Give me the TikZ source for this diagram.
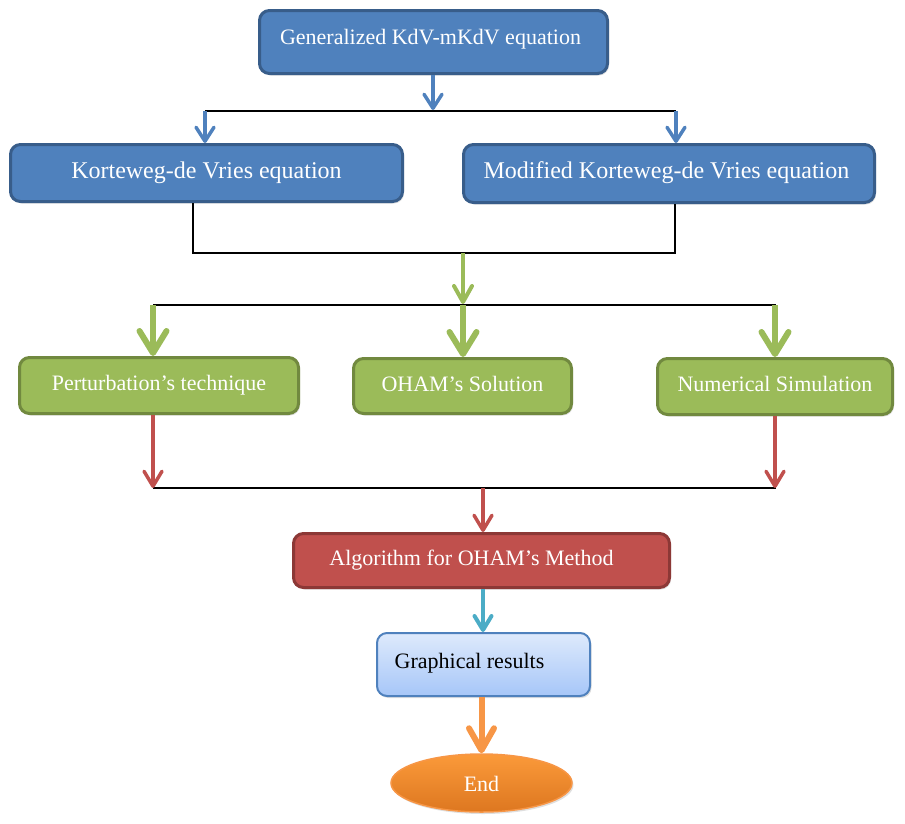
\documentclass[tikz,border=0pt]{standalone}
\usepackage{fontspec}
\setmainfont{Liberation Serif}
\usetikzlibrary{arrows.meta,shapes.geometric,shadows}
\definecolor{bfill}{HTML}{4F81BD}
\definecolor{bdraw}{HTML}{385D8A}
\definecolor{gfill}{HTML}{9BBB59}
\definecolor{gdraw}{HTML}{71893F}
\definecolor{rfill}{HTML}{C0504D}
\definecolor{rdraw}{HTML}{8C3836}
\definecolor{lbtop}{HTML}{DEEAFC}
\definecolor{lbbot}{HTML}{A6C6F8}
\definecolor{teal}{HTML}{4BACC6}
\definecolor{oline}{HTML}{F79646}
\definecolor{otop}{HTML}{FB9A3A}
\definecolor{obot}{HTML}{DD7720}
\tikzset{
  box/.style={rounded corners=10pt, line width=3pt, text height=15pt, text depth=5pt,
    inner sep=0pt, font=\fontsize{22}{26}\selectfont,
    drop shadow={shadow xshift=1.5pt, shadow yshift=-2pt, opacity=0.25}},
  bluebox/.style={box, fill=bfill, draw=bdraw, text=white},
  bigtext/.style={font=\fontsize{24}{28}\selectfont, text height=16pt, text depth=6pt},
  greenbox/.style={box, fill=gfill, draw=gdraw, text=white},
  redbox/.style={box, fill=rfill, draw=rdraw, text=white},
  lightbox/.style={box, line width=2pt, draw=bfill, top color=lbtop, bottom color=lbbot, text=black},
  endbox/.style={ellipse, inner sep=0pt, draw=oline, line width=1.5pt, top color=otop, bottom color=obot,
    text=white, font=\fontsize{22}{26}\selectfont, text height=18pt, text depth=2pt,
    drop shadow={shadow xshift=1.5pt, shadow yshift=-2pt, opacity=0.25}},
  bus/.style={black, line width=1.8pt},
  barrow/.style={draw=bfill, line width=3.5pt, -{Straight Barb[length=14pt,width=18pt,round]}},
  gsarrow/.style={draw=gfill, line width=4pt, -{Straight Barb[length=16pt,width=18pt,round]}},
  garrow/.style={draw=gfill, line width=6pt, -{Straight Barb[length=22pt,width=27pt,round]}},
  rarrow/.style={draw=rfill, line width=3.5pt, -{Straight Barb[length=15pt,width=18pt,round]}},
  tarrow/.style={draw=teal, line width=4pt, -{Straight Barb[length=14pt,width=17pt,round]}},
  oarrow/.style={draw=oline, line width=6pt, -{Straight Barb[length=22pt,width=25pt,round]}},
}
\begin{document}
\begin{tikzpicture}[x=1pt,y=-1pt]
\useasboundingbox (0,0) rectangle (905,823);
% boxes
\node[bluebox, text depth=11pt, minimum width=348pt, minimum height=63pt] (top) at (433.5,42) {Generalized KdV-mKdV equation\hspace*{6pt}};
\node[bluebox, bigtext, minimum width=392pt, minimum height=57pt] (kdv) at (206.5,173) {Korteweg-de Vries equation};
\node[bluebox, bigtext, minimum width=411pt, minimum height=58pt] (mkdv) at (669,173.5) {Modified Korteweg-de Vries equation\hspace*{5pt}};
\node[greenbox, minimum width=279pt, minimum height=56pt] (pert) at (159,385.5) {Perturbation’s technique};
\node[greenbox, minimum width=218pt, minimum height=55pt] (oham) at (462.5,386) {OHAM’s Solution};
\node[greenbox, minimum width=235pt, minimum height=56pt] (num) at (775,386.5) {Numerical Simulation};
\node[redbox, minimum width=376pt, minimum height=54pt] (alg) at (481.5,560.5) {Algorithm for OHAM’s Method\hspace*{20pt}};
\node[lightbox, text depth=7pt, minimum width=213pt, minimum height=63pt] (graph) at (483.5,664.5) {Graphical results\hspace*{28pt}};
\node[endbox, minimum width=181pt, minimum height=58pt] (end) at (481.5,783) {End};
% junction coordinates
\coordinate (b1) at (433,110);
\coordinate (b1l) at (205,111);
\coordinate (b1r) at (676,111);
\coordinate (c2l) at (193,253);
\coordinate (c2r) at (675,253);
\coordinate (c2m) at (463,253);
\coordinate (b3m) at (463,305);
\coordinate (b3l) at (153,305);
\coordinate (b3r) at (776,305);
\coordinate (b4l) at (153,488);
\coordinate (b4r) at (776,488);
\coordinate (b4m) at (483,488);
% level 1
\draw[bus] (b1l) -- (b1r);
\draw[barrow] (top.south -| b1) -- (b1);
\draw[barrow] (b1l) -- (b1l |- kdv.north);
\draw[barrow] (b1r) -- (b1r |- mkdv.north);
% level 2
\draw[bus] (c2l |- kdv.south) -- (c2l) -- (c2r) -- (c2r |- mkdv.south);
\draw[bus] (b3l) -- (b3r);
\draw[gsarrow] (c2m) -- ([yshift=1pt]b3m);
\draw[garrow] (b3l) -- (b3l |- pert.north);
\draw[garrow] (b3m) -- (b3m |- oham.north);
\draw[garrow] ([xshift=-1pt]b3r) -- ([xshift=-1pt]b3r |- num.north);
% level 3
\draw[bus] (b4l) -- (b4r);
\draw[rarrow] (b4l |- pert.south) -- (b4l);
\draw[rarrow] ([xshift=-1pt]b4r |- num.south) -- ([xshift=-1pt]b4r);
\draw[rarrow] (b4m) -- (b4m |- alg.north);
% bottom
\draw[tarrow] (alg.south -| b4m) -- (b4m |- graph.north);
\draw[oarrow] ([xshift=-2pt]graph.south) -- (end.north);
\end{tikzpicture}
\end{document}
